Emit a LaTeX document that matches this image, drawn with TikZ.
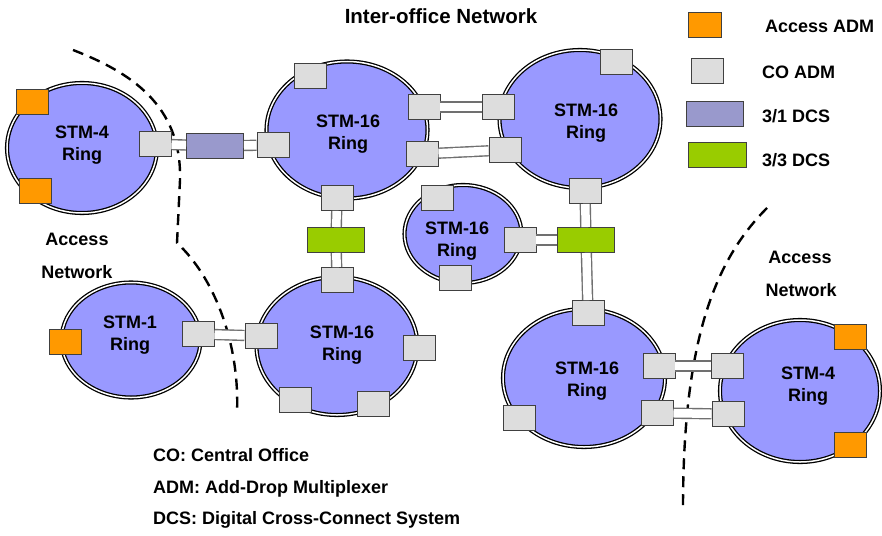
\documentclass[tikz,border=0pt]{standalone}
\usepackage{fontspec}
\setmainfont{Liberation Sans}
\usepackage{tikz}
\usetikzlibrary{shapes.geometric}

\definecolor{ringblue}{HTML}{9999FF}
\definecolor{admgray}{HTML}{DDDDDD}
\definecolor{admorange}{HTML}{FF9900}
\definecolor{dcspurple}{HTML}{9999CC}
\definecolor{dcsgreen}{HTML}{99CC00}
\definecolor{edgegray}{HTML}{404040}
\definecolor{pipegray}{HTML}{707070}

\newcommand{\diagfont}{\fontsize{18}{22}\selectfont\bfseries}

\begin{document}
\begin{tikzpicture}[x=1pt, y=-1pt,
  ring/.style={ellipse, draw=black, line width=1.3pt, double=white, double distance=1.5pt, fill=ringblue, inner sep=0pt},
  ringtext/.style={font=\diagfont, align=center, inner sep=0pt},
  coadm/.style={rectangle, draw=edgegray, line width=0.9pt, fill=admgray, minimum width=32pt, minimum height=25pt, inner sep=0pt},
  accadm/.style={coadm, fill=admorange},
  dcsone/.style={coadm, fill=dcspurple, minimum width=57pt},
  dcsthree/.style={coadm, fill=dcsgreen, minimum width=57pt},
  pipe/.style={draw=pipegray, line width=1.4pt, double=white, double distance=8.5pt},
  border/.style={black, line width=2.4pt, dash pattern=on 11pt off 7pt},
  lbl/.style={font=\diagfont, inner sep=0pt}]
  \useasboundingbox (0,0) rectangle (882,535);

  % rings
  \node[ring, minimum width=150pt, minimum height=130pt] (ringA) at (82,148) {};
  \node[ring, minimum width=161pt, minimum height=137pt] (ringB) at (347,130) {};
  \node[ring, minimum width=161pt, minimum height=138pt] (ringC) at (580,119) {};
  \node[ring, minimum width=117pt, minimum height=98pt] (ringD) at (463,234) {};
  \node[ring, minimum width=139pt, minimum height=115pt] (ringE) at (131,340) {};
  \node[ring, minimum width=161pt, minimum height=138pt] (ringF) at (337,346) {};
  \node[ring, minimum width=162pt, minimum height=138pt] (ringG) at (584,378) {};
  \node[ring, minimum width=160pt, minimum height=142pt] (ringH) at (800,391) {};

  \node[ringtext] (ringA-t) at (82,145) {STM-4\\Ring};
  \node[ringtext] (ringB-t) at (348,134) {STM-16\\Ring};
  \node[ringtext] (ringC-t) at (586,123) {STM-16\\Ring};
  \node[ringtext] (ringD-t) at (457,241) {STM-16\\Ring};
  \node[ringtext] (ringE-t) at (130,335) {STM-1\\Ring};
  \node[ringtext] (ringF-t) at (342,345) {STM-16\\Ring};
  \node[ringtext] (ringG-t) at (587,381) {STM-16\\Ring};
  \node[ringtext] (ringH-t) at (808,386) {STM-4\\Ring};

  % access network borders
  \draw[border] (73,50) .. controls (130,72) and (182,105) .. (180,180) -- (177,243)
    .. controls (212,275) and (240,340) .. (237,413);
  \draw[border] (767,208) .. controls (715,260) and (683,340) .. (683,508);

  % CO ADMs
  \node[coadm] (adm1) at (155,144) {};
  \node[coadm] (adm2) at (273,145) {};
  \node[coadm] (adm3) at (310,76) {};
  \node[coadm] (adm4) at (424,107) {};
  \node[coadm] (adm5) at (422,154) {};
  \node[coadm] (adm6) at (337,198) {};
  \node[coadm] (adm7) at (498,107) {};
  \node[coadm] (adm8) at (505,150) {};
  \node[coadm] (adm9) at (616,62) {};
  \node[coadm] (adm10) at (585,191) {};
  \node[coadm] (adm11) at (437,198) {};
  \node[coadm] (adm12) at (520,240) {};
  \node[coadm] (adm13) at (455,278) {};
  \node[coadm] (adm14) at (198,334) {};
  \node[coadm] (adm15) at (261,336) {};
  \node[coadm] (adm16) at (337,280) {};
  \node[coadm] (adm17) at (419,348) {};
  \node[coadm] (adm18) at (295,400) {};
  \node[coadm] (adm19) at (373,404) {};
  \node[coadm] (adm20) at (588,313) {};
  \node[coadm] (adm21) at (659,366) {};
  \node[coadm] (adm22) at (657,413) {};
  \node[coadm] (adm23) at (519,418) {};
  \node[coadm] (adm24) at (727,366) {};
  \node[coadm] (adm25) at (728,414) {};

  % access ADMs
  \node[accadm] (acc1) at (32,102) {};
  \node[accadm] (acc2) at (35,191) {};
  \node[accadm] (acc3) at (65,342) {};
  \node[accadm] (acc4) at (850,337) {};
  \node[accadm] (acc5) at (850,445) {};

  % cross-connects
  \node[dcsone] (dcs31) at (215,146) {};
  \node[dcsthree] (dcs33a) at (336,240) {};
  \node[dcsthree] (dcs33b) at (586,240) {};

  % links
  \draw[pipe] (adm1) -- (dcs31);
  \draw[pipe] (dcs31) -- (adm2);
  \draw[pipe] (adm4) -- (adm7);
  \draw[pipe] (adm5) -- (adm8);
  \draw[pipe] (adm6) -- (dcs33a);
  \draw[pipe] (dcs33a) -- (adm16);
  \draw[pipe] (adm12) -- (dcs33b);
  \draw[pipe] (adm10) -- (dcs33b);
  \draw[pipe] (dcs33b) -- (adm20);
  \draw[pipe] (adm14) -- (adm15);
  \draw[pipe] (adm21) -- (adm24);
  \draw[pipe] (adm22) -- (adm25);

  % legend
  \node[accadm, minimum width=33pt] (legAcc) at (705,25) {};
  \node[coadm] (legCO) at (707,71) {};
  \node[dcsone] (leg31) at (715,114) {};
  \node[dcsthree, minimum width=58pt] (leg33) at (717,155) {};
  \node[lbl, anchor=base west] (legAcc-t) at (765,33) {Access ADM};
  \node[lbl, anchor=base west] (legCO-t) at (762,78) {CO ADM};
  \node[lbl, anchor=base west] (leg31-t) at (762,122) {3/1 DCS};
  \node[lbl, anchor=base west] (leg33-t) at (762,166) {3/3 DCS};

  % labels
  \node[lbl, anchor=base, font=\fontsize{20.5}{24}\selectfont\bfseries] (title) at (441,24) {Inter-office Network};
  \node[lbl, anchor=base] (accL1) at (77,245) {Access};
  \node[lbl, anchor=base] (accL2) at (77,278) {Network};
  \node[lbl, anchor=base] (accR1) at (800,263) {Access};
  \node[lbl, anchor=base] (accR2) at (801,296) {Network};
  \node[lbl, anchor=base west] (noteCO) at (153,461) {CO: Central Office};
  \node[lbl, anchor=base west] (noteADM) at (153,493) {ADM: Add-Drop Multiplexer};
  \node[lbl, anchor=base west] (noteDCS) at (153,524) {DCS: Digital Cross-Connect System};
\end{tikzpicture}
\end{document}
